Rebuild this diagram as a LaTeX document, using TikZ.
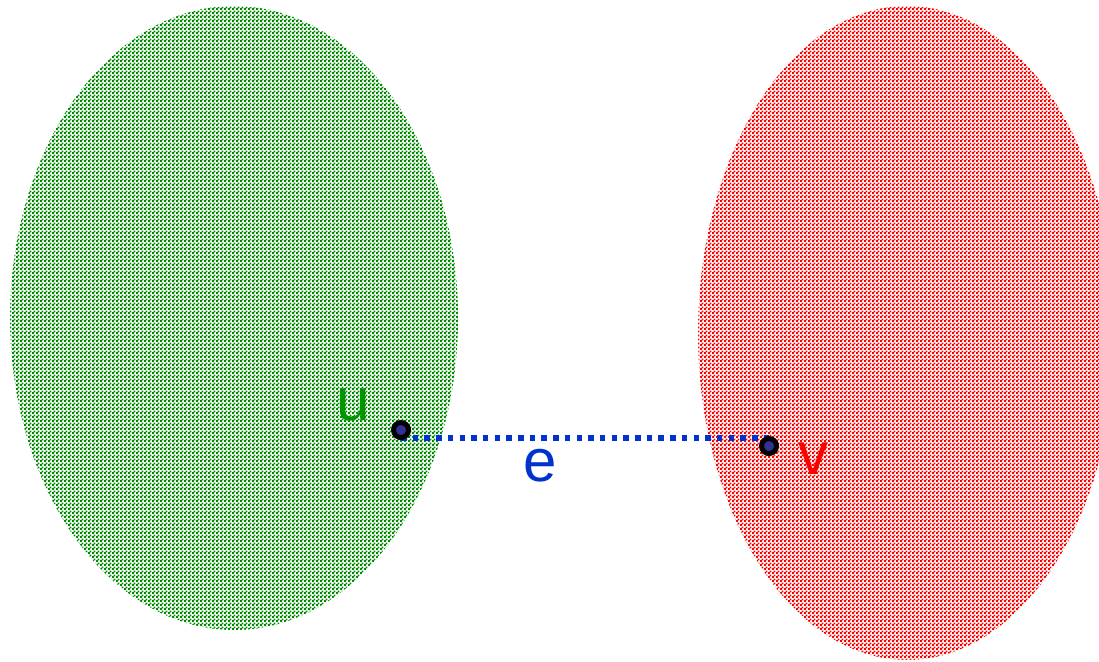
\documentclass[tikz,border=0pt]{standalone}
\usepackage{fontspec}
\setmainfont{Liberation Sans}
\usetikzlibrary{patterns,calc,shapes.geometric}
\pgfdeclarepatternformonly{stagdots}{\pgfqpoint{0pt}{0pt}}{\pgfqpoint{4pt}{4pt}}{\pgfqpoint{4pt}{4pt}}{%
  \pgfpathrectangle{\pgfqpoint{0pt}{0pt}}{\pgfqpoint{2.25pt}{2.25pt}}%
  \pgfpathrectangle{\pgfqpoint{2pt}{2pt}}{\pgfqpoint{2.25pt}{2.25pt}}%
  \pgfusepath{fill}}
\definecolor{patgreen}{RGB}{0,140,0}
\definecolor{labgreen}{RGB}{0,150,0}
\definecolor{edgeblue}{RGB}{0,51,204}
\definecolor{vertfill}{RGB}{50,50,150}
\tikzset{
  region/.style={ellipse, inner sep=0pt, pattern=stagdots},
  vert/.style={circle, draw=black, line width=5pt, fill=vertfill, minimum size=15pt, inner sep=0pt},
  edgeline/.style={edgeblue, line width=5.5pt, dash pattern=on 5.5pt off 6.2pt},
  lab/.style={font=\fontsize{60}{60}\selectfont, inner sep=0pt}
}
\begin{document}
\begin{tikzpicture}[x=1pt,y=-1pt]
\useasboundingbox (0,0) rectangle (1099,661);
\clip (0,0) rectangle (1099,661);
\node[region, pattern color=patgreen, minimum width=448pt, minimum height=624pt] (A) at (234,318) {};
\node[region, pattern color=red, minimum width=418pt, minimum height=654pt] (B) at (907,333) {};
\coordinate (uc) at (401,430);
\coordinate (vc) at (769,446);
\coordinate (m) at ($(uc)!0.5!(vc)$);
\draw[edgeline] (uc |- m) -- (vc |- m);
\node[vert] (u) at (uc) {};
\node[vert] (v) at (vc) {};
\node[lab, text=labgreen] (lu) at (353,405) {u};
\node[lab, text=edgeblue] (le) at (540,466) {e};
\node[lab, text=red] (lv) at (813,459) {v};
\end{tikzpicture}
\end{document}
